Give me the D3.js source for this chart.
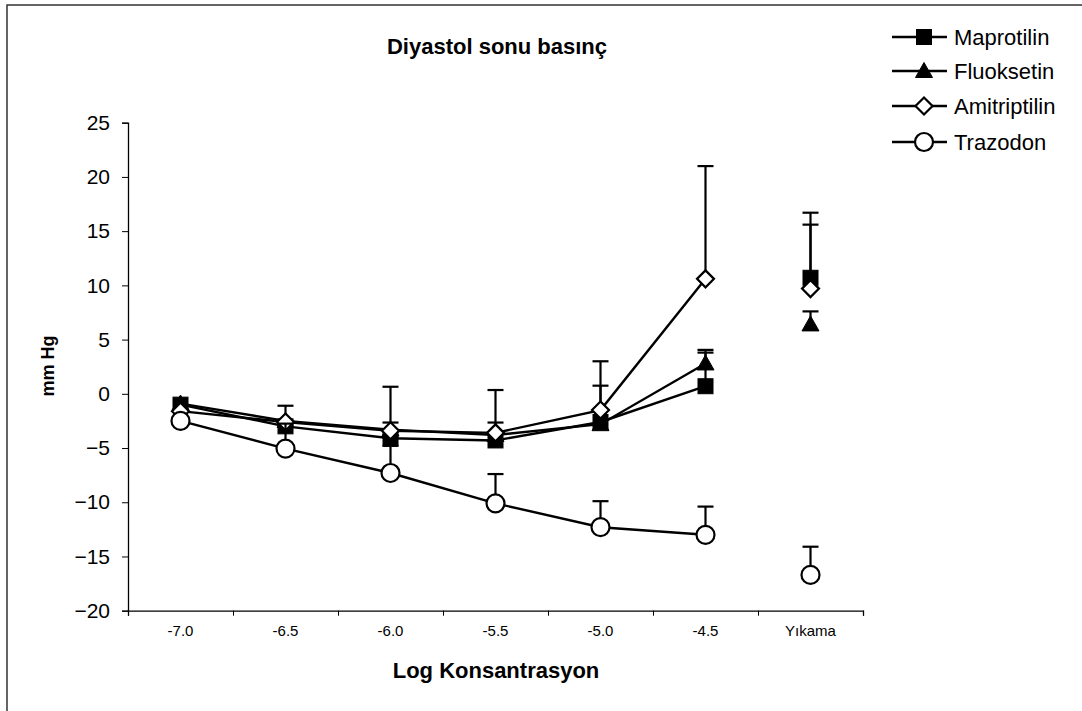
<!DOCTYPE html>
<html>
<head>
<meta charset="utf-8">
<script src="https://cdn.jsdelivr.net/npm/d3@7"></script>
<style>
  html, body { margin: 0; padding: 0; background: #fff; }
  svg { display: block; font-family: "Liberation Sans", Arial, sans-serif; }
</style>
</head>
<body>
<svg id="chart" width="1082" height="711"></svg>
<script>
// ---- data ----
const categories = ["-7.0", "-6.5", "-6.0", "-5.5", "-5.0", "-4.5", "Yıkama"];
const seriesNames = ["Maprotilin", "Fluoksetin", "Amitriptilin", "Trazodon"];
const maprotilin      = [-1.0, -3.0, -4.1, -4.3, -2.6, 0.7, 10.7];
const maprotilinErr   = [0, 0, 1.45, 1.65, 3.35, 3.1, 6.0];
const fluoksetin      = [-0.9, -2.5, -3.3, -3.8, -2.8, 2.8, 6.4];
const fluoksetinErr   = [0, 1.4, 0, 0, 0, 1.25, 1.2];
const amitriptilin    = [-1.6, -2.6, -3.4, -3.6, -1.5, 10.6, 9.7];
const amitriptilinErr = [0, 0, 4.05, 3.95, 4.5, 10.4, 5.9];
const trazodon        = [-2.5, -5.05, -7.3, -10.1, -12.3, -13.0, -16.7];
const trazodonErr     = [0, 2.3, 2.5, 2.7, 2.4, 2.6, 2.6];
const yTicks = [-20, -15, -10, -5, 0, 5, 10, 15, 20, 25];
const titleText = "Diyastol sonu basınç";
const xTitle = "Log Konsantrasyon";
const yTitle = "mm Hg";

const seriesValues = [maprotilin, fluoksetin, amitriptilin, trazodon];
const seriesErrors = [maprotilinErr, fluoksetinErr, amitriptilinErr, trazodonErr];
const markerTypes = ["square", "triangle", "diamond", "circle"];

// ---- layout ----
const svg = d3.select("#chart");
const plot = { left: 128, right: 863, top: 122.7, bottom: 610.7 };

// outer frame (only top/left visible)
svg.append("rect")
  .attr("x", 7).attr("y", 5)
  .attr("width", 1200).attr("height", 800)
  .attr("fill", "none").attr("stroke", "#333").attr("stroke-width", 1.5);

const x = d3.scaleBand().domain(categories).range([plot.left, plot.right]).padding(0);
const xEdge = d3.scaleLinear().domain([0, categories.length]).range([plot.left, plot.right]);
const y = d3.scaleLinear().domain([-20, 25]).range([plot.bottom, plot.top]);
const cx = c => x(c) + x.bandwidth() / 2;

// y axis
const yAxis = svg.append("g")
  .attr("transform", `translate(${plot.left},0)`)
  .call(d3.axisLeft(y).tickValues(yTicks).tickSize(6).tickPadding(12).tickFormat(d3.format("d")));
yAxis.select(".domain").attr("stroke", "#000").attr("stroke-width", 1.3);
yAxis.selectAll(".tick line").attr("stroke", "#000").attr("stroke-width", 1);
yAxis.selectAll(".tick text").attr("font-size", 21).attr("fill", "#000")
  .attr("font-family", "Liberation Sans, Arial, sans-serif");

// x axis: boundary ticks
const xAxisG = svg.append("g").attr("transform", `translate(0,${plot.bottom})`);
xAxisG.call(d3.axisBottom(xEdge).tickValues(d3.range(0, categories.length + 1)).tickSize(5).tickFormat(""));
xAxisG.select(".domain").attr("stroke", "#000").attr("stroke-width", 1.3);
xAxisG.selectAll(".tick line").attr("stroke", "#000").attr("stroke-width", 1);
// x category labels
const xLab = svg.append("g").attr("transform", `translate(0,${plot.bottom})`)
  .call(d3.axisBottom(x).tickSize(0).tickPadding(15));
xLab.select(".domain").remove();
xLab.selectAll(".tick text").attr("font-size", 15).attr("fill", "#000")
  .attr("font-family", "Liberation Sans, Arial, sans-serif");

// titles
svg.append("text").attr("x", 497).attr("y", 54).attr("text-anchor", "middle")
  .attr("font-size", 22).attr("font-weight", "bold").text(titleText);
svg.append("text").attr("x", 496).attr("y", 678).attr("text-anchor", "middle")
  .attr("font-size", 22).attr("font-weight", "bold").text(xTitle);
svg.append("text").attr("transform", "translate(54,366) rotate(-90)").attr("text-anchor", "middle")
  .attr("font-size", 18).attr("font-weight", "bold").text(yTitle);

// marker drawer
function drawMarker(g, type, px, py) {
  if (type === "square") {
    g.append("rect").attr("x", px - 7.5).attr("y", py - 7.5).attr("width", 15).attr("height", 15)
      .attr("fill", "#000").attr("stroke", "#000").attr("stroke-width", 1);
  } else if (type === "triangle") {
    g.append("path").attr("d", `M${px},${py - 8.5}L${px + 8.5},${py + 6.5}L${px - 8.5},${py + 6.5}Z`)
      .attr("fill", "#000").attr("stroke", "#000").attr("stroke-width", 1);
  } else if (type === "diamond") {
    g.append("path").attr("d", `M${px},${py - 8.5}L${px + 8.5},${py}L${px},${py + 8.5}L${px - 8.5},${py}Z`)
      .attr("fill", "#fff").attr("stroke", "#000").attr("stroke-width", 2.2);
  } else {
    g.append("circle").attr("cx", px).attr("cy", py).attr("r", 9)
      .attr("fill", "#fff").attr("stroke", "#000").attr("stroke-width", 2.2);
  }
}

// series
const lineGen = d3.line().x((d, i) => cx(categories[i])).y(d => y(d));
seriesValues.forEach((vals, si) => {
  const g = svg.append("g");
  const errs = seriesErrors[si];
  // error bars (upper)
  vals.forEach((v, i) => {
    if (!errs[i]) return;
    const px = cx(categories[i]);
    g.append("line").attr("x1", px).attr("x2", px).attr("y1", y(v)).attr("y2", y(v + errs[i]))
      .attr("stroke", "#000").attr("stroke-width", 2.2);
    g.append("line").attr("x1", px - 8).attr("x2", px + 8).attr("y1", y(v + errs[i])).attr("y2", y(v + errs[i]))
      .attr("stroke", "#000").attr("stroke-width", 2.2);
  });
  // line over first 6 categories
  g.append("path").datum(vals.slice(0, 6)).attr("d", lineGen)
    .attr("fill", "none").attr("stroke", "#000").attr("stroke-width", 2.4);
  vals.forEach((v, i) => drawMarker(g, markerTypes[si], cx(categories[i]), y(v)));
});

// legend
const legend = svg.append("g");
const legendY = [37, 71, 106, 142];
seriesNames.forEach((name, i) => {
  const ly = legendY[i];
  legend.append("line").attr("x1", 892).attr("x2", 947).attr("y1", ly).attr("y2", ly)
    .attr("stroke", "#000").attr("stroke-width", 2.4);
  drawMarker(legend, markerTypes[i], 924, ly);
  legend.append("text").attr("x", 954).attr("y", ly).attr("dy", "0.35em")
    .attr("font-size", 22).attr("fill", "#000").text(name);
});
</script>
</body>
</html>
